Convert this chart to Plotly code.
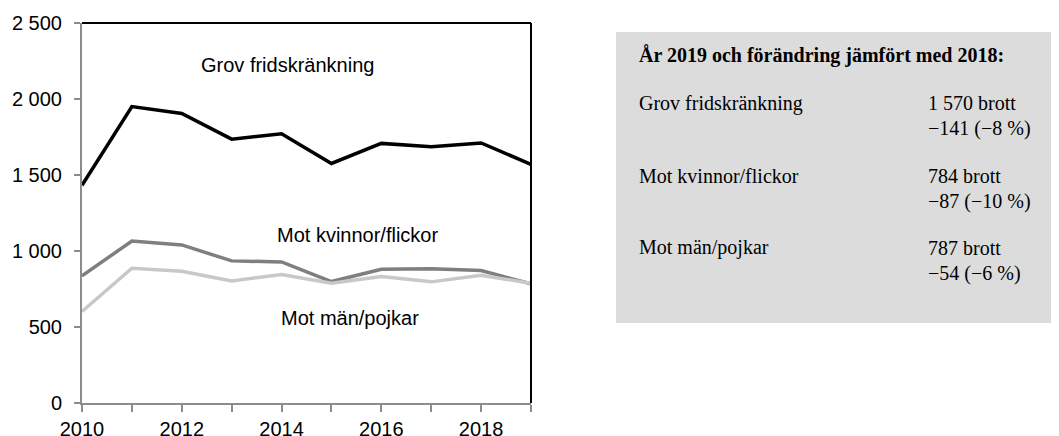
import plotly.graph_objects as go

years = [2010, 2011, 2012, 2013, 2014, 2015, 2016, 2017, 2018, 2019]
grov = [1432, 1950, 1905, 1736, 1771, 1576, 1708, 1686, 1711, 1570]
kvinnor = [836, 1066, 1040, 935, 928, 799, 880, 884, 871, 784]
man = [602, 887, 867, 803, 845, 788, 832, 797, 841, 787]

series_names = ["Grov fridskränkning", "Mot kvinnor/flickor", "Mot män/pojkar"]
series_colors = ["#000000", "#7f7f7f", "#c8c8c8"]

x_tickvals = years
x_ticktext = ["2010", "", "2012", "", "2014", "", "2016", "", "2018", ""]
y_tickvals = [0, 500, 1000, 1500, 2000, 2500]
y_ticktext = ["0", "500", "1 000", "1 500", "2 000", "2 500"]

panel_title = "År 2019 och förändring jämfört med 2018:"
panel_rows = [
    ("Grov fridskränkning", "1 570 brott", "\u2212141 (\u22128 %)"),
    ("Mot kvinnor/flickor", "784 brott", "\u221287 (\u221210 %)"),
    ("Mot män/pojkar", "787 brott", "\u221254 (\u22126 %)"),
]

# page has an 8px body margin; work in page pixels and convert
OFF = 8
W, H = 1059 - OFF, 436 - OFF
L, T = 82 - OFF, 23 - OFF
B = H - (403 - OFF)
R = 0
PW = W - L - R
PH = H - T - B
def px(x):
    return (x - OFF - L) / PW
def py(y):
    return (H - B - (y - OFF)) / PH

fig = go.Figure()
for name, vals, col in zip(series_names, [grov, kvinnor, man], series_colors):
    fig.add_trace(go.Scatter(x=years, y=vals, mode="lines", name=name,
                             line=dict(color=col, width=3.5), showlegend=False))

axis_gray = "#8c8c8c"
sans = "Liberation Sans, Arial, sans-serif"
fig.update_layout(
    width=W, height=H,
    margin=dict(l=L, r=R, t=T, b=B, autoexpand=False),
    paper_bgcolor="white", plot_bgcolor="white",
    font=dict(family=sans, size=20, color="black"),
    xaxis=dict(domain=[0, (531 - 82) / PW], range=[2010, 2019],
               tickvals=x_tickvals, ticktext=x_ticktext, automargin=False,
               showgrid=False, zeroline=False, showline=True,
               linecolor=axis_gray, linewidth=2,
               ticks="outside", ticklen=7, tickwidth=2, tickcolor=axis_gray,
               ticklabelstandoff=0, tickfont=dict(size=20)),
    yaxis=dict(range=[0, 2500], tickvals=y_tickvals, ticktext=y_ticktext,
               automargin=False,
               showgrid=False, zeroline=False, showline=True,
               linecolor=axis_gray, linewidth=2,
               ticks="outside", ticklen=6, tickwidth=2, tickcolor=axis_gray,
               ticklabelstandoff=8, tickfont=dict(size=20)),
)

# top and right border (black)
fig.add_shape(type="line", xref="x domain", yref="y domain", x0=0, x1=1, y0=1, y1=1,
              line=dict(color="black", width=2))
fig.add_shape(type="line", xref="x domain", yref="y domain", x0=1, x1=1, y0=0, y1=1,
              line=dict(color="black", width=2))

# in-chart labels
fig.add_annotation(x=2014.12, y=2224, text=series_names[0], showarrow=False,
                   font=dict(size=20), xref="x", yref="y")
fig.add_annotation(x=2015.52, y=1105, text=series_names[1], showarrow=False,
                   font=dict(size=20), xref="x", yref="y")
fig.add_annotation(x=2015.37, y=559, text=series_names[2], showarrow=False,
                   font=dict(size=20), xref="x", yref="y")

# info panel
fig.add_shape(type="rect", xref="paper", yref="paper",
              x0=px(616), x1=px(1059), y0=py(323), y1=py(32),
              fillcolor="#dcdcdc", line=dict(width=0), layer="below")
serif = "Liberation Serif, Times New Roman, serif"
fig.add_annotation(xref="paper", yref="paper", x=px(637), y=py(55), xanchor="left",
                   yanchor="middle", showarrow=False, text="<b>" + panel_title + "</b>",
                   font=dict(family=serif, size=20, color="black"))
row_y = [(103, 129), (176, 201), (248, 273)]
for (label, v1, v2), (y1, y2) in zip(panel_rows, row_y):
    fig.add_annotation(xref="paper", yref="paper", x=px(637), y=py(y1), xanchor="left",
                       yanchor="middle", showarrow=False, text=label,
                       font=dict(family=serif, size=20, color="black"))
    fig.add_annotation(xref="paper", yref="paper", x=px(926), y=py(y1), xanchor="left",
                       yanchor="middle", showarrow=False, text=v1,
                       font=dict(family=serif, size=20, color="black"))
    fig.add_annotation(xref="paper", yref="paper", x=px(926), y=py(y2), xanchor="left",
                       yanchor="middle", showarrow=False, text=v2,
                       font=dict(family=serif, size=20, color="black"))

fig.write_html("out.html")
